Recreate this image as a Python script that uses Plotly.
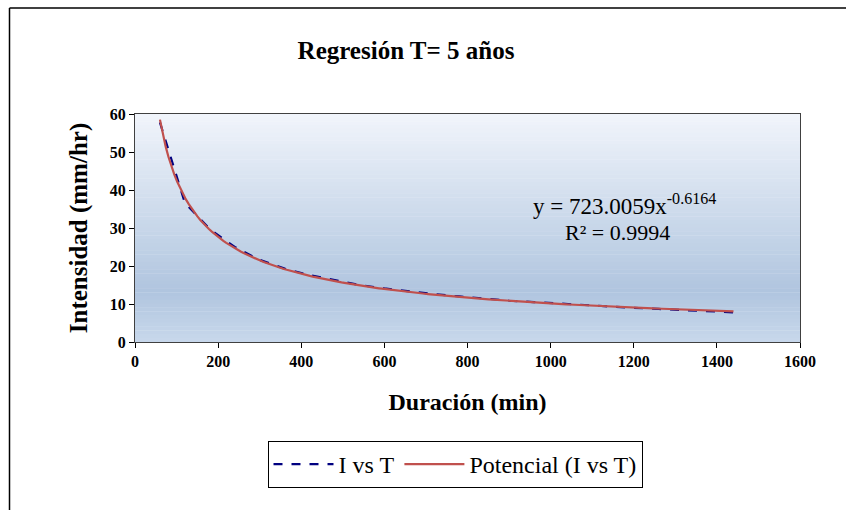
import numpy as np
import plotly.graph_objects as go

# ---- data ----
duracion = [60, 120, 180, 240, 300, 360, 420, 480, 540, 600, 660, 720,
            780, 840, 900, 960, 1020, 1080, 1140, 1200, 1260, 1320, 1380, 1440]
intensidad = [57.8, 36.6, 29.7, 25.0, 21.6, 19.3, 17.6, 16.2, 15.0, 14.1, 13.3, 12.6,
              12.0, 11.4, 10.9, 10.5, 10.1, 9.7, 9.3, 9.0, 8.7, 8.4, 8.1, 7.8]
x_ticks = [0, 200, 400, 600, 800, 1000, 1200, 1400, 1600]
y_ticks = [0, 10, 20, 30, 40, 50, 60]
title_text = "Regresión T= 5 años"
x_title = "Duración (min)"
y_title = "Intensidad (mm/hr)"
serie_name = "I vs T"
trend_name = "Potencial (I vs T)"
eq_coef = "723.0059"
eq_exp = "-0.6164"
r2_text = "R² = 0.9994"

# power trendline fitted from the data (log-log least squares, as Excel does)
lx = np.log(np.array(duracion, dtype=float))
ly = np.log(np.array(intensidad, dtype=float))
b, lna = np.polyfit(lx, ly, 1)
trend_x = np.linspace(min(duracion), max(duracion), 200)
trend_y = np.exp(lna) * trend_x ** b

W, H = 846, 510
L, R, T, B = 135, 46, 114, 168
pw, ph = W - L - R, H - T - B

def px(xp):
    return (xp - L) / pw

def py(yp):
    return (H - B - yp) / ph

FONT = "Liberation Serif, Times New Roman, serif"

fig = go.Figure()
fig.add_trace(go.Scatter(x=duracion, y=intensidad, mode="lines", name=serie_name,
                         line=dict(color="#000080", width=2.2, dash="dash")))
fig.add_trace(go.Scatter(x=trend_x, y=trend_y, mode="lines", name=trend_name,
                         line=dict(color="#C0504D", width=2.2)))

shapes = []
def lerp(c1, c2, t):
    return tuple(int(round(a + (b_ - a) * t)) for a, b_ in zip(c1, c2))

top_c = (241, 245, 251)
mid_c = (176, 197, 223)
bot_c = (200, 216, 235)
n = 60
for i in range(n):
    f0 = i / n
    f1 = (i + 1) / n
    fm = (f0 + f1) / 2
    if fm < 0.78:
        c = lerp(top_c, mid_c, fm / 0.78)
    else:
        c = lerp(mid_c, bot_c, (fm - 0.78) / 0.22)
    shapes.append(dict(type="rect", xref="x domain", yref="y domain",
                       x0=0, x1=1, y0=1 - f1, y1=1 - f0 + 0.002,
                       fillcolor="rgb(%d,%d,%d)" % c, line=dict(width=0),
                       layer="below"))
# outer chart frame (left and top)
shapes.append(dict(type="line", xref="paper", yref="paper",
                   x0=px(9.5), x1=px(9.5), y0=py(8), y1=py(515),
                   line=dict(color="black", width=1.5)))
shapes.append(dict(type="line", xref="paper", yref="paper",
                   x0=px(9.5), x1=px(850), y0=py(8), y1=py(8),
                   line=dict(color="black", width=1.5)))

fig.update_layout(
    width=W, height=H,
    margin=dict(l=L, r=R, t=T, b=B),
    paper_bgcolor="white", plot_bgcolor="rgba(0,0,0,0)",
    shapes=shapes,
    font=dict(family=FONT, color="black"),
    title=dict(text="<b>" + title_text + "</b>", xref="container", x=406 / W, xanchor="center",
               yref="container", y=1 - 50 / H, yanchor="middle",
               font=dict(size=25, family=FONT)),
    xaxis=dict(range=[0, 1600], tickvals=x_ticks, ticktext=["<b>%d</b>" % v for v in x_ticks],
               showgrid=False, zeroline=False, showline=True, linecolor="#404040",
               linewidth=1.2, mirror=True, ticks="outside", ticklen=5, tickcolor="black",
               tickfont=dict(size=16, family=FONT),
               title=dict(text="<b>" + x_title + "</b>", font=dict(size=24, family=FONT),
                          standoff=23)),
    yaxis=dict(range=[0, 60], tickvals=y_ticks, ticktext=["<b>%d</b>" % v for v in y_ticks],
               showgrid=False, zeroline=False, showline=True, linecolor="#404040",
               linewidth=1.2, mirror=True, ticks="outside", ticklen=5, tickcolor="black",
               tickfont=dict(size=16, family=FONT),
               title=dict(text="<b>" + y_title + "</b>", font=dict(size=25, family=FONT),
                          standoff=14)),
    legend=dict(orientation="h", x=px(455), xanchor="center", y=py(441), yanchor="top",
                bordercolor="black", borderwidth=1, bgcolor="white",
                font=dict(size=24, family=FONT), traceorder="normal",
                itemwidth=60),
    showlegend=True,
    annotations=[
        dict(xref="paper", yref="paper", x=px(624), y=py(204), xanchor="center",
             yanchor="middle", showarrow=False,
             text="y = " + eq_coef + "x<sup>" + eq_exp + "</sup>",
             font=dict(size=23, family=FONT)),
        dict(xref="paper", yref="paper", x=px(617), y=py(232), xanchor="center",
             yanchor="middle", showarrow=False, text=r2_text,
             font=dict(size=22, family=FONT)),
    ],
)

fig.write_html("out.html", config={"displayModeBar": False},
               post_script="document.body.style.margin='0';document.body.style.padding='0';")
